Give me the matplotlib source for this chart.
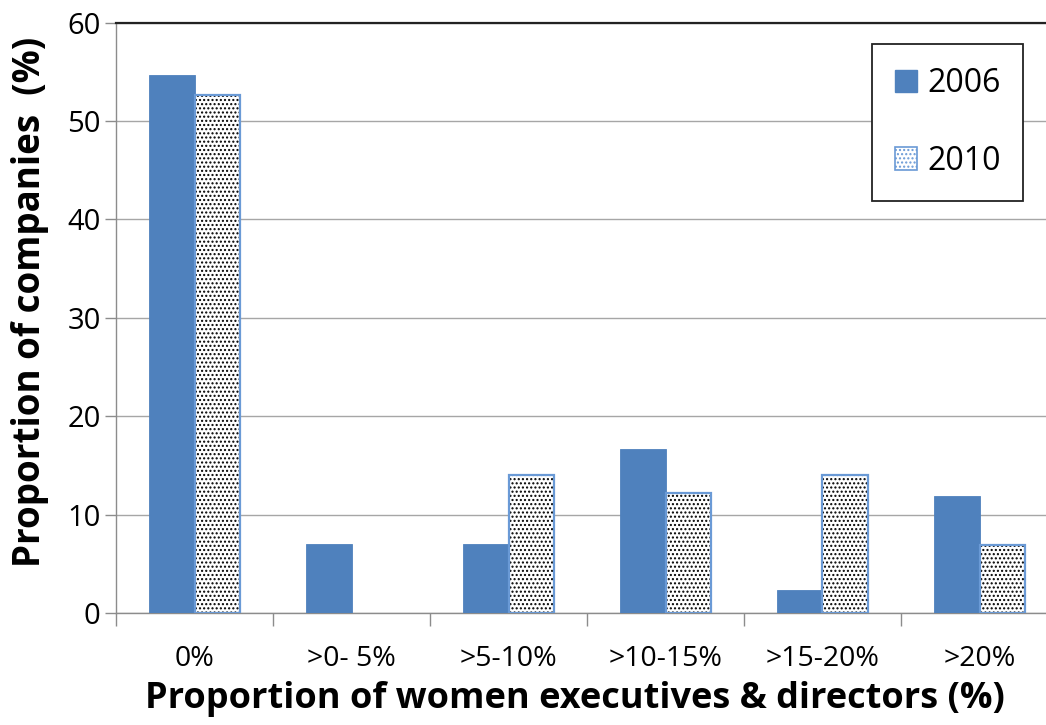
import matplotlib
matplotlib.use("Agg")
import matplotlib.pyplot as plt
from matplotlib.patches import Patch
import numpy as np

plt.rcParams['font.family'] = ['Open Sans', 'DejaVu Sans']
plt.rcParams['hatch.linewidth'] = 1.0

# Share of companies by proportion of women among executives & directors
categories = ['0%', '>0- 5%', '>5-10%', '>10-15%', '>15-20%', '>20%']
pct_2006 = [54.7, 7.0, 7.0, 16.7, 2.3, 11.9]
pct_2010 = [52.6, 0.0, 14.0, 12.2, 14.0, 6.9]
y_ticks = [0, 10, 20, 30, 40, 50, 60]

fill_blue = '#4F81BD'
edge_blue = '#6A9AD6'
axis_grey = '#8C8C8C'
dots = '....'

W, H = 1046, 725
fig = plt.figure(figsize=(W / 100, H / 100), dpi=100)
# plot area runs a little past the right border of the figure
ax = fig.add_axes([116 / W, 112 / H, 942 / W, 590.5 / H])

x = np.arange(len(categories))
bw = 0.29

ax.bar(x - bw / 2, pct_2006, bw, color=fill_blue, edgecolor=fill_blue,
       linewidth=0.6, zorder=3)
# dotted bars: hatch layer first, then the blue outline on top
vals10 = np.array(pct_2010)
has = vals10 > 0
ax.bar(x[has] + bw / 2, vals10[has], bw, color='white', edgecolor='black',
       hatch=dots, linewidth=0, zorder=3)
ax.bar(x[has] + bw / 2, vals10[has], bw, fill=False, edgecolor=edge_blue,
       linewidth=1.6, zorder=4)

ax.set_xlim(-0.5, len(categories) - 0.5)
ax.set_ylim(0, 60)
ax.set_yticks(y_ticks)
ax.yaxis.grid(True, color='#A6A6A6', linewidth=1.0, zorder=0)
ax.set_axisbelow(True)

ax.set_xticks(x)
ax.set_xticklabels(categories)
ax.set_xticks(np.arange(len(categories) + 1) - 0.5, minor=True)
ax.tick_params(axis='x', which='major', length=0, pad=23, labelsize=20.5)
ax.tick_params(axis='x', which='minor', length=9, width=1.0, color=axis_grey,
               direction='out')
ax.tick_params(axis='y', length=8, width=1.0, color=axis_grey, pad=3,
               labelsize=21, direction='out')

ax.spines['right'].set_visible(False)
ax.spines['left'].set_color(axis_grey)
ax.spines['bottom'].set_color(axis_grey)
ax.spines['left'].set_linewidth(1.0)
ax.spines['bottom'].set_linewidth(1.0)
ax.spines['top'].set_color('#222222')
ax.spines['top'].set_linewidth(1.6)

fig.text(575 / W, 1 - 699 / H, 'Proportion of women executives & directors (%)',
         ha='center', va='center', fontsize=26, fontweight='bold')
fig.text(30 / W, 1 - 302 / H, 'Proportion of companies  (%)', rotation=90,
         ha='center', va='center', fontsize=26.5, fontweight='bold')

handles = [
    Patch(facecolor=fill_blue, edgecolor=fill_blue, label='2006'),
    Patch(facecolor='white', edgecolor=edge_blue, hatch=dots, linewidth=1.2,
          label='2010'),
]
leg = fig.legend(handles=handles, loc='upper left',
                 bbox_to_anchor=(872 / W, 1 - 44 / H), fontsize=23,
                 frameon=True, fancybox=False, framealpha=1,
                 edgecolor='#222222', handlelength=0.7, handleheight=0.7,
                 handletextpad=0.3, labelspacing=1.4, borderpad=0.72,
                 borderaxespad=0)
leg.get_frame().set_linewidth(1.3)

fig.savefig('out.png', dpi=100)
